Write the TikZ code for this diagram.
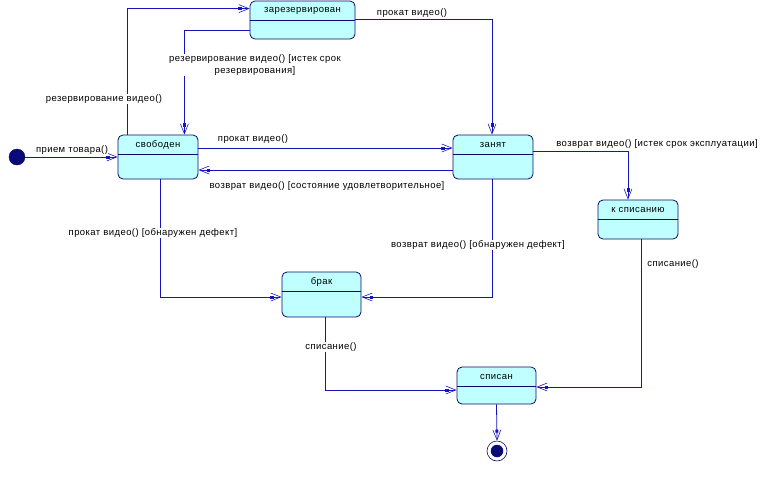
\documentclass[tikz,border=0pt]{standalone}
\usepackage{fontspec}
\setmainfont{Liberation Sans}[LetterSpace=4.5]
\usetikzlibrary{arrows.meta,calc}
\definecolor{edgec}{RGB}{20,20,190}
\definecolor{sborder}{RGB}{10,10,110}
\definecolor{sfill}{RGB}{192,255,255}
\definecolor{dotc}{RGB}{10,10,120}
\newcommand{\lblfont}{\fontsize{9.5}{12}\selectfont}
\begin{document}
\begin{tikzpicture}[x=1pt,y=-1pt,
  statebox/.style={draw=sborder, fill=sfill, line width=0.8pt, rounded corners=5pt,
    minimum width=80pt, inner sep=0pt,
    path picture={\draw[sborder,line width=0.8pt]
      ([yshift=-19.5pt]path picture bounding box.north west) --
      ([yshift=-19.5pt]path picture bounding box.north east);}},
  sname/.style={font=\lblfont, anchor=center, yshift=-10pt},
  trans/.style={draw=edgec, line width=0.8pt,
    -{Square[length=3pt,width=3pt,sep=-3pt]Straight Barb[length=10pt,width=8pt,line width=0.6pt]}},
  lbl/.style={font=\lblfont, fill=white, inner sep=0.5pt},
]
\useasboundingbox (0,0) rectangle (766,480);

% states
\node[statebox, minimum width=105pt, minimum height=38pt,
  label={[sname,name=rezt]north:зарезервирован}] (rez) at (302.5,20) {};
\node[statebox, minimum height=44pt,
  label={[sname,name=svt]north:свободен}] (sv) at (158,157) {};
\node[statebox, minimum height=44pt,
  label={[sname,name=zant]north:занят}] (zan) at (493,157) {};
\node[statebox, minimum height=39pt,
  label={[sname,name=kspt]north:к списанию}] (ksp) at (638,219.5) {};
\node[statebox, minimum width=79pt, minimum height=45pt,
  label={[sname,name=brakt]north:брак}] (brak) at (321.5,294.5) {};
\node[statebox, minimum width=79pt, minimum height=37pt,
  label={[sname,name=spt]north:списан}] (sp) at (496.5,385.5) {};

% pseudo states
\node[circle, fill=dotc, draw=sborder, minimum size=16pt, inner sep=0pt] (init) at (17,157) {};
\node[circle, draw=sborder, line width=0.6pt, minimum size=20pt, inner sep=0pt] (fin) at (497,451) {};
\node[circle, fill=dotc, minimum size=12.5pt, inner sep=0pt] (find) at (497,451) {};

% transitions
\draw[trans] (init) -- (sv.west);
\draw[trans] ($(sv.north west)+(10,0)$) |- ($(rez.north west)+(0,8)$);
\draw[trans] ($(rez.south west)+(0,-9)$) -| ($(sv.north east)+(-14,0)$);
\draw[trans] ($(rez.east)+(0,-1)$) -| ($(zan.north)+(-1,0)$);
\draw[trans] ($(sv.east)+(0,-9)$) -- ($(zan.west)+(0,-9)$);
\draw[trans] ($(zan.west)+(0,13)$) -- ($(sv.east)+(0,13)$);
\draw[trans] ($(zan.east)+(0,-6)$) -| ($(ksp.north)+(-10,0)$);
\draw[trans] ($(sv.south)+(2,0)$) |- ($(brak.west)+(0,2.5)$);
\draw[trans] ($(zan.south)+(-1,0)$) |- ($(brak.east)+(0,2.5)$);
\draw[trans] ($(brak.south)+(3.5,0)$) |- ($(sp.west)+(0,4.5)$);
\draw[trans] ($(ksp.south)+(3,0)$) |- ($(sp.east)+(0,1.5)$);
\draw[trans] (sp.south) -- (fin.north);

% labels
\node[lbl] (l1) at (72,150) {прием товара()};
\node[lbl] (l2) at (104,99) {резервирование видео()};
\node[lbl, align=center] (l3) at (255,65) {резервирование видео() [истек срок\\резервирования]};
\node[lbl] (l4) at (412,13) {прокат видео()};
\node[lbl] (l5) at (253,139) {прокат видео()};
\node[lbl] (l6) at (327,186) {возврат видео() [состояние удовлетворительное]};
\node[lbl] (l7) at (657,144) {возврат видео() [истек срок эксплуатации]};
\node[lbl] (l8) at (153,233) {прокат видео() [обнаружен дефект]};
\node[lbl] (l9) at (478,245) {возврат видео() [обнаружен дефект]};
\node[lbl] (l10) at (331,347) {списание()};
\node[lbl] (l11) at (673,264) {списание()};
\end{tikzpicture}
\end{document}
